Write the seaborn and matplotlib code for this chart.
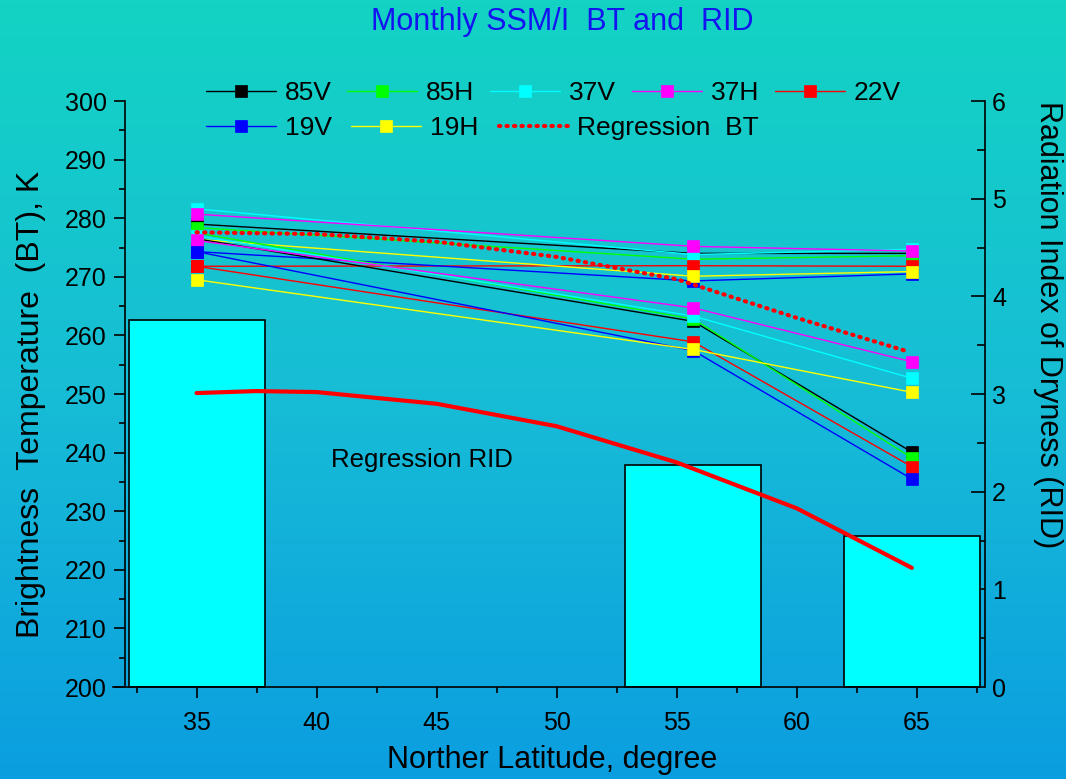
import numpy as np
import pandas as pd
import matplotlib
matplotlib.use("Agg")
import matplotlib.pyplot as plt
import seaborn as sns
from matplotlib.colors import LinearSegmentedColormap
from matplotlib.lines import Line2D
from matplotlib.ticker import MultipleLocator

# ---------------- data ----------------
latitudes = [35.0, 55.7, 64.8]
channels = ["85V", "85H", "37V", "37H", "22V", "19V", "19H"]
channel_colors = ["#000000", "#00FF00", "#00FFFF", "#FF00FF", "#FF0000", "#0000FF", "#FFFF00"]

# month A (upper group)
bt_month_a = {
    "85V": [279.0, 274.0, 274.0],
    "85H": [278.4, 273.0, 273.6],
    "37V": [281.6, 273.8, 274.7],
    "37H": [280.7, 275.2, 274.4],
    "22V": [271.8, 271.9, 271.8],
    "19V": [274.3, 269.3, 270.5],
    "19H": [276.4, 270.1, 270.9],
}
# month B (lower group)
bt_month_b = {
    "85V": [276.5, 262.4, 240.1],
    "85H": [277.5, 262.8, 239.1],
    "37V": [277.0, 263.3, 252.7],
    "37H": [276.2, 264.7, 255.5],
    "22V": [271.8, 258.9, 237.6],
    "19V": [274.3, 257.4, 235.5],
    "19H": [269.5, 257.6, 250.3],
}

reg_bt_lat = [35, 40, 45, 50, 55, 60, 64.6]
reg_bt_val = [277.6, 277.3, 276.0, 273.4, 269.6, 263.0, 257.3]

reg_rid_lat = [35, 37.5, 40, 45, 50, 55, 60, 64.8]
reg_rid_val = [3.01, 3.03, 3.02, 2.90, 2.67, 2.30, 1.83, 1.22]

bar_lat = [35.0, 55.7, 64.8]
bar_rid = [3.76, 2.27, 1.55]

# ---------------- style ----------------
sns.set_theme(style="ticks")
plt.rcParams["font.family"] = ["Liberation Sans", "DejaVu Sans"]

fig = plt.figure(figsize=(10.66, 7.79), dpi=100)

# gradient background
bg = fig.add_axes([0, 0, 1, 1], zorder=-10)
cmap = LinearSegmentedColormap.from_list("bg", ["#13D3C3", "#17BDD6", "#0B9EE0"])
grad = np.linspace(0, 1, 256).reshape(-1, 1)
bg.imshow(grad, aspect="auto", cmap=cmap, extent=[0, 1, 0, 1], origin="upper")
bg.set_axis_off()

ax = fig.add_axes([0.1056, 0.1181, 0.8128, 0.7522])
ax2 = ax.twinx()
ax.set_zorder(2)
ax2.set_zorder(1)
ax.patch.set_visible(False)
ax2.patch.set_visible(False)

# bars (RID) on right axis
ax2.bar(bar_lat, bar_rid, width=5.67, color="#00FFFF", edgecolor="black",
        linewidth=1.2, zorder=1, clip_on=False)
# regression RID
sns.lineplot(x=reg_rid_lat, y=reg_rid_val, ax=ax2, color="#FF0000", linewidth=3, zorder=3)

# BT lines
for month in (bt_month_a, bt_month_b):
    for ch, col in zip(channels, channel_colors):
        sns.lineplot(x=latitudes, y=month[ch], ax=ax, color=col, marker="s",
                     markersize=8.6, markeredgecolor=col, markeredgewidth=0.5,
                     linewidth=1, zorder=3)

# regression BT
sns.lineplot(x=reg_bt_lat, y=reg_bt_val, ax=ax, color="#FF0000", linewidth=3,
             linestyle=(0, (0.3, 1.5)), dash_capstyle="round", zorder=5)

ax.text(44.4, 238.7, "Regression RID", fontsize=18.5, ha="center", va="center", color="black")

# ---------------- axes ----------------
ax.set_xlim(31.5, 67.6)
ax.set_ylim(200, 300)
ax2.set_ylim(0, 6)

ax.xaxis.set_major_locator(MultipleLocator(5))
ax.xaxis.set_minor_locator(MultipleLocator(2.5))
ax.yaxis.set_major_locator(MultipleLocator(10))
ax.yaxis.set_minor_locator(MultipleLocator(5))
ax2.yaxis.set_major_locator(MultipleLocator(1))
ax2.yaxis.set_minor_locator(MultipleLocator(0.5))

for sp in ["top", "right"]:
    ax.spines[sp].set_visible(False)
for sp in ["top", "left", "bottom"]:
    ax2.spines[sp].set_visible(False)
ax.spines["left"].set_position(("data", 32.0))
ax2.spines["right"].set_position(("axes", 1.007))
for s in [ax.spines["left"], ax.spines["bottom"], ax2.spines["right"]]:
    s.set_color("black")
    s.set_linewidth(1.2)

ax.tick_params(axis="both", which="major", direction="out", length=8, width=1.2,
               labelsize=18, colors="black", pad=5)
ax.tick_params(axis="both", which="minor", direction="out", length=4.5, width=1.2, colors="black")
ax.tick_params(axis="x", which="major", pad=9)
ax2.tick_params(axis="y", which="major", direction="in", length=10, width=1.2,
                labelsize=18, colors="black", pad=5)
ax2.tick_params(axis="y", which="minor", direction="in", length=6, width=1.2, colors="black")

ax.set_xlabel("Norther Latitude, degree", fontsize=22, color="black",
              ha="center", va="center")
ax.xaxis.set_label_coords(0.507, -0.1246)
ax.set_ylabel("Brightness  Temperature  (BT), K", fontsize=23, color="black",
              ha="center", va="center")
ax.yaxis.set_label_coords(-0.0942, 0.483)
ax2.set_ylabel("Radiation Index of Dryness (RID)", fontsize=22, color="black",
               rotation=270, ha="center", va="center")
ax2.yaxis.set_label_coords(1.0796, 0.618)

fig.text(0.527, 0.9718, "Monthly SSM/I  BT and  RID", fontsize=22, color="#1414F0",
         ha="center", va="center")

# ---------------- legends ----------------
handles = [Line2D([], [], color=c, marker="s", markersize=8.6, markeredgecolor=c,
                  markeredgewidth=0.5, linewidth=1) for c in channel_colors]
reg_handle = Line2D([], [], color="#FF0000", linewidth=3, linestyle=(0, (0.3, 1.5)),
                    dash_capstyle="round")
leg_kw = dict(frameon=False, fontsize=19, handlelength=2.65, handletextpad=0.34,
              borderpad=0, borderaxespad=0, loc="center left")
leg1 = fig.legend(handles[:5], channels[:5], ncol=5, columnspacing=0.6,
                  bbox_to_anchor=(0.193, 0.8806), **leg_kw)
leg2 = fig.legend(handles[5:] + [reg_handle], channels[5:] + ["Regression  BT"], ncol=3,
                  columnspacing=0.75, bbox_to_anchor=(0.193, 0.8357), **leg_kw)
for lg in (leg1, leg2):
    for t in lg.get_texts():
        t.set_color("black")

fig.savefig("out.png", dpi=100)
